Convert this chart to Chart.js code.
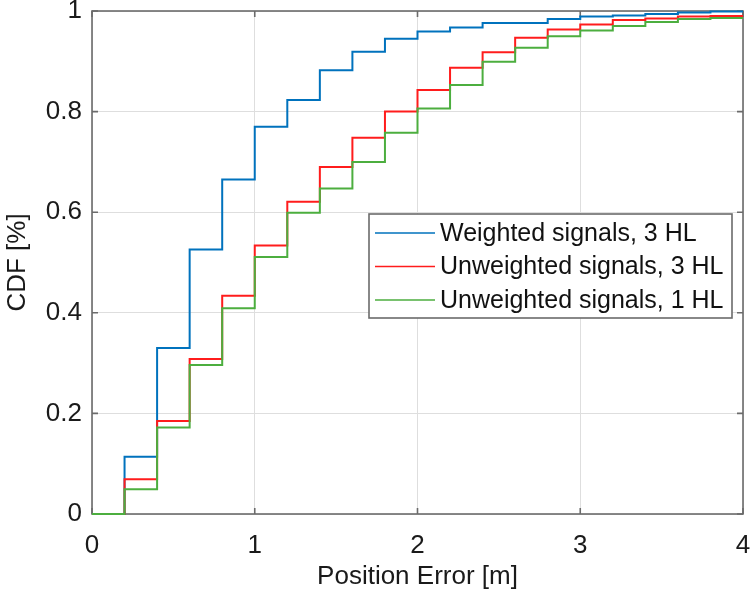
<!DOCTYPE html>
<html>
<head>
<meta charset="utf-8">
<script src="https://cdn.jsdelivr.net/npm/chart.js@4.4.1/dist/chart.umd.min.js"></script>
<style>
  html, body { margin: 0; padding: 0; background: #fff; }
  #wrap { width: 755px; height: 599px; }
</style>
</head>
<body>
<div id="wrap"><canvas id="cdf"></canvas></div>
<script>
// CDF of position error, stairs every 0.2 m

const xSteps = [0, 0.2, 0.4, 0.6, 0.8, 1.0, 1.2, 1.4, 1.6, 1.8, 2.0, 2.2, 2.4, 2.6, 2.8, 3.0, 3.2, 3.4, 3.6, 3.8, 4.0];

const weighted3 = [0, 0.114, 0.330, 0.526, 0.665, 0.770, 0.823, 0.882, 0.919, 0.945, 0.959, 0.967, 0.976, 0.976, 0.984, 0.989, 0.991, 0.994, 0.997, 0.999, 0.999];
const unweighted3 = [0, 0.069, 0.185, 0.308, 0.434, 0.534, 0.621, 0.690, 0.748, 0.800, 0.843, 0.887, 0.918, 0.947, 0.963, 0.973, 0.982, 0.985, 0.989, 0.990, 0.990];
const unweighted1 = [0, 0.049, 0.172, 0.296, 0.409, 0.511, 0.599, 0.647, 0.700, 0.758, 0.806, 0.853, 0.899, 0.927, 0.950, 0.961, 0.970, 0.978, 0.984, 0.986, 0.986];

const seriesLabels = ['Weighted signals, 3 HL', 'Unweighted signals, 3 HL', 'Unweighted signals, 1 HL'];
const seriesColors = ['#0072bd', '#ff1c1c', '#4cae3f'];

const xTicks = [0, 1, 2, 3, 4];
const yTicks = [0, 0.2, 0.4, 0.6, 0.8, 1];

const FONT = "'Liberation Sans', Arial, Helvetica, sans-serif";
const FRAME = '#6b6b6b';

function pontos(valores) {
  return xSteps.map((x, i) => ({ x: x, y: valores[i] }));
}

// chart.js adds room for the edge labels on top of layout.padding; we want fixed margins
function semPadding(s) {
  s.paddingTop = 0; s.paddingBottom = 0; s.paddingLeft = 0; s.paddingRight = 0;
}

// box + inward ticks on all four sides, like matlab "box on"
const framePlugin = {
  id: 'frame',
  beforeDatasetsDraw(chart) {
    const { ctx, chartArea: a, scales } = chart;
    ctx.save();
    ctx.strokeStyle = FRAME;
    ctx.lineWidth = 1.6;
    ctx.strokeRect(a.left, a.top, a.right - a.left, a.bottom - a.top);
    const tl = 6;
    ctx.beginPath();
    xTicks.forEach((v) => {
      const px = scales.x.getPixelForValue(v);
      ctx.moveTo(px, a.bottom); ctx.lineTo(px, a.bottom - tl);
      ctx.moveTo(px, a.top); ctx.lineTo(px, a.top + tl);
    });
    yTicks.forEach((v) => {
      const py = scales.y.getPixelForValue(v);
      ctx.moveTo(a.left, py); ctx.lineTo(a.left + tl, py);
      ctx.moveTo(a.right, py); ctx.lineTo(a.right - tl, py);
    });
    ctx.stroke();
    ctx.restore();
  }
};

// legend box inside the plot area
const legendPlugin = {
  id: 'legendBox',
  afterDatasetsDraw(chart) {
    const { ctx } = chart;
    const bx = 369, by = 214, bw = 363, bh = 104;
    ctx.save();
    ctx.fillStyle = '#fff';
    ctx.fillRect(bx, by, bw, bh);
    ctx.strokeStyle = FRAME;
    ctx.lineWidth = 1.6;
    ctx.strokeRect(bx, by, bw, bh);
    ctx.font = '25px ' + FONT;
    ctx.textBaseline = 'middle';
    ctx.fillStyle = '#111';
    chart.data.datasets.forEach((ds, i) => {
      const cy = by + 19 + i * 33.5;
      ctx.strokeStyle = ds.borderColor;
      ctx.lineWidth = 1.6;
      ctx.beginPath();
      ctx.moveTo(bx + 6, cy);
      ctx.lineTo(bx + 66, cy);
      ctx.stroke();
      ctx.fillText(ds.label, bx + 71, cy + 1);
    });
    ctx.restore();
  }
};

const eixoTicks = { color: '#1a1a1a', font: { family: FONT, size: 26 } };

new Chart(document.getElementById('cdf'), {
  type: 'line',
  data: {
    datasets: [
      { label: seriesLabels[0], data: pontos(weighted3), borderColor: seriesColors[0], order: 2 },
      { label: seriesLabels[1], data: pontos(unweighted3), borderColor: seriesColors[1], order: 1 },
      { label: seriesLabels[2], data: pontos(unweighted1), borderColor: seriesColors[2], order: 0 }
    ]
  },
  options: {
    responsive: true,
    maintainAspectRatio: false,
    animation: false,
    layout: { padding: { left: 0, right: 12, top: 11, bottom: 0 } },
    datasets: {
      line: { stepped: 'before', borderWidth: 2, pointRadius: 0, fill: false, clip: 4 }
    },
    scales: {
      x: {
        type: 'linear',
        min: 0, max: 4,
        afterBuildTicks: (s) => { s.ticks = xTicks.map((v) => ({ value: v })); },
        afterFit: (s) => { s.height = 85; semPadding(s); },
        grid: { color: '#dedede', lineWidth: 1, drawTicks: false },
        border: { display: false },
        ticks: { ...eixoTicks, padding: 16, maxRotation: 0 },
        title: { display: true, text: 'Position Error [m]', color: '#1a1a1a', font: { family: FONT, size: 26 }, padding: { top: 0, bottom: 7 } }
      },
      y: {
        min: 0, max: 1,
        afterBuildTicks: (s) => { s.ticks = yTicks.map((v) => ({ value: v })); },
        afterFit: (s) => { s.width = 92; semPadding(s); },
        grid: { color: '#dedede', lineWidth: 1, drawTicks: false },
        border: { display: false },
        ticks: { ...eixoTicks, padding: 10, callback: (v) => String(v) },
        title: { display: true, text: 'CDF [%]', color: '#1a1a1a', font: { family: FONT, size: 26 }, padding: { top: 2, bottom: 0 } }
      }
    },
    plugins: {
      legend: { display: false },
      tooltip: { enabled: false }
    }
  },
  plugins: [framePlugin, legendPlugin]
});
</script>
</body>
</html>
